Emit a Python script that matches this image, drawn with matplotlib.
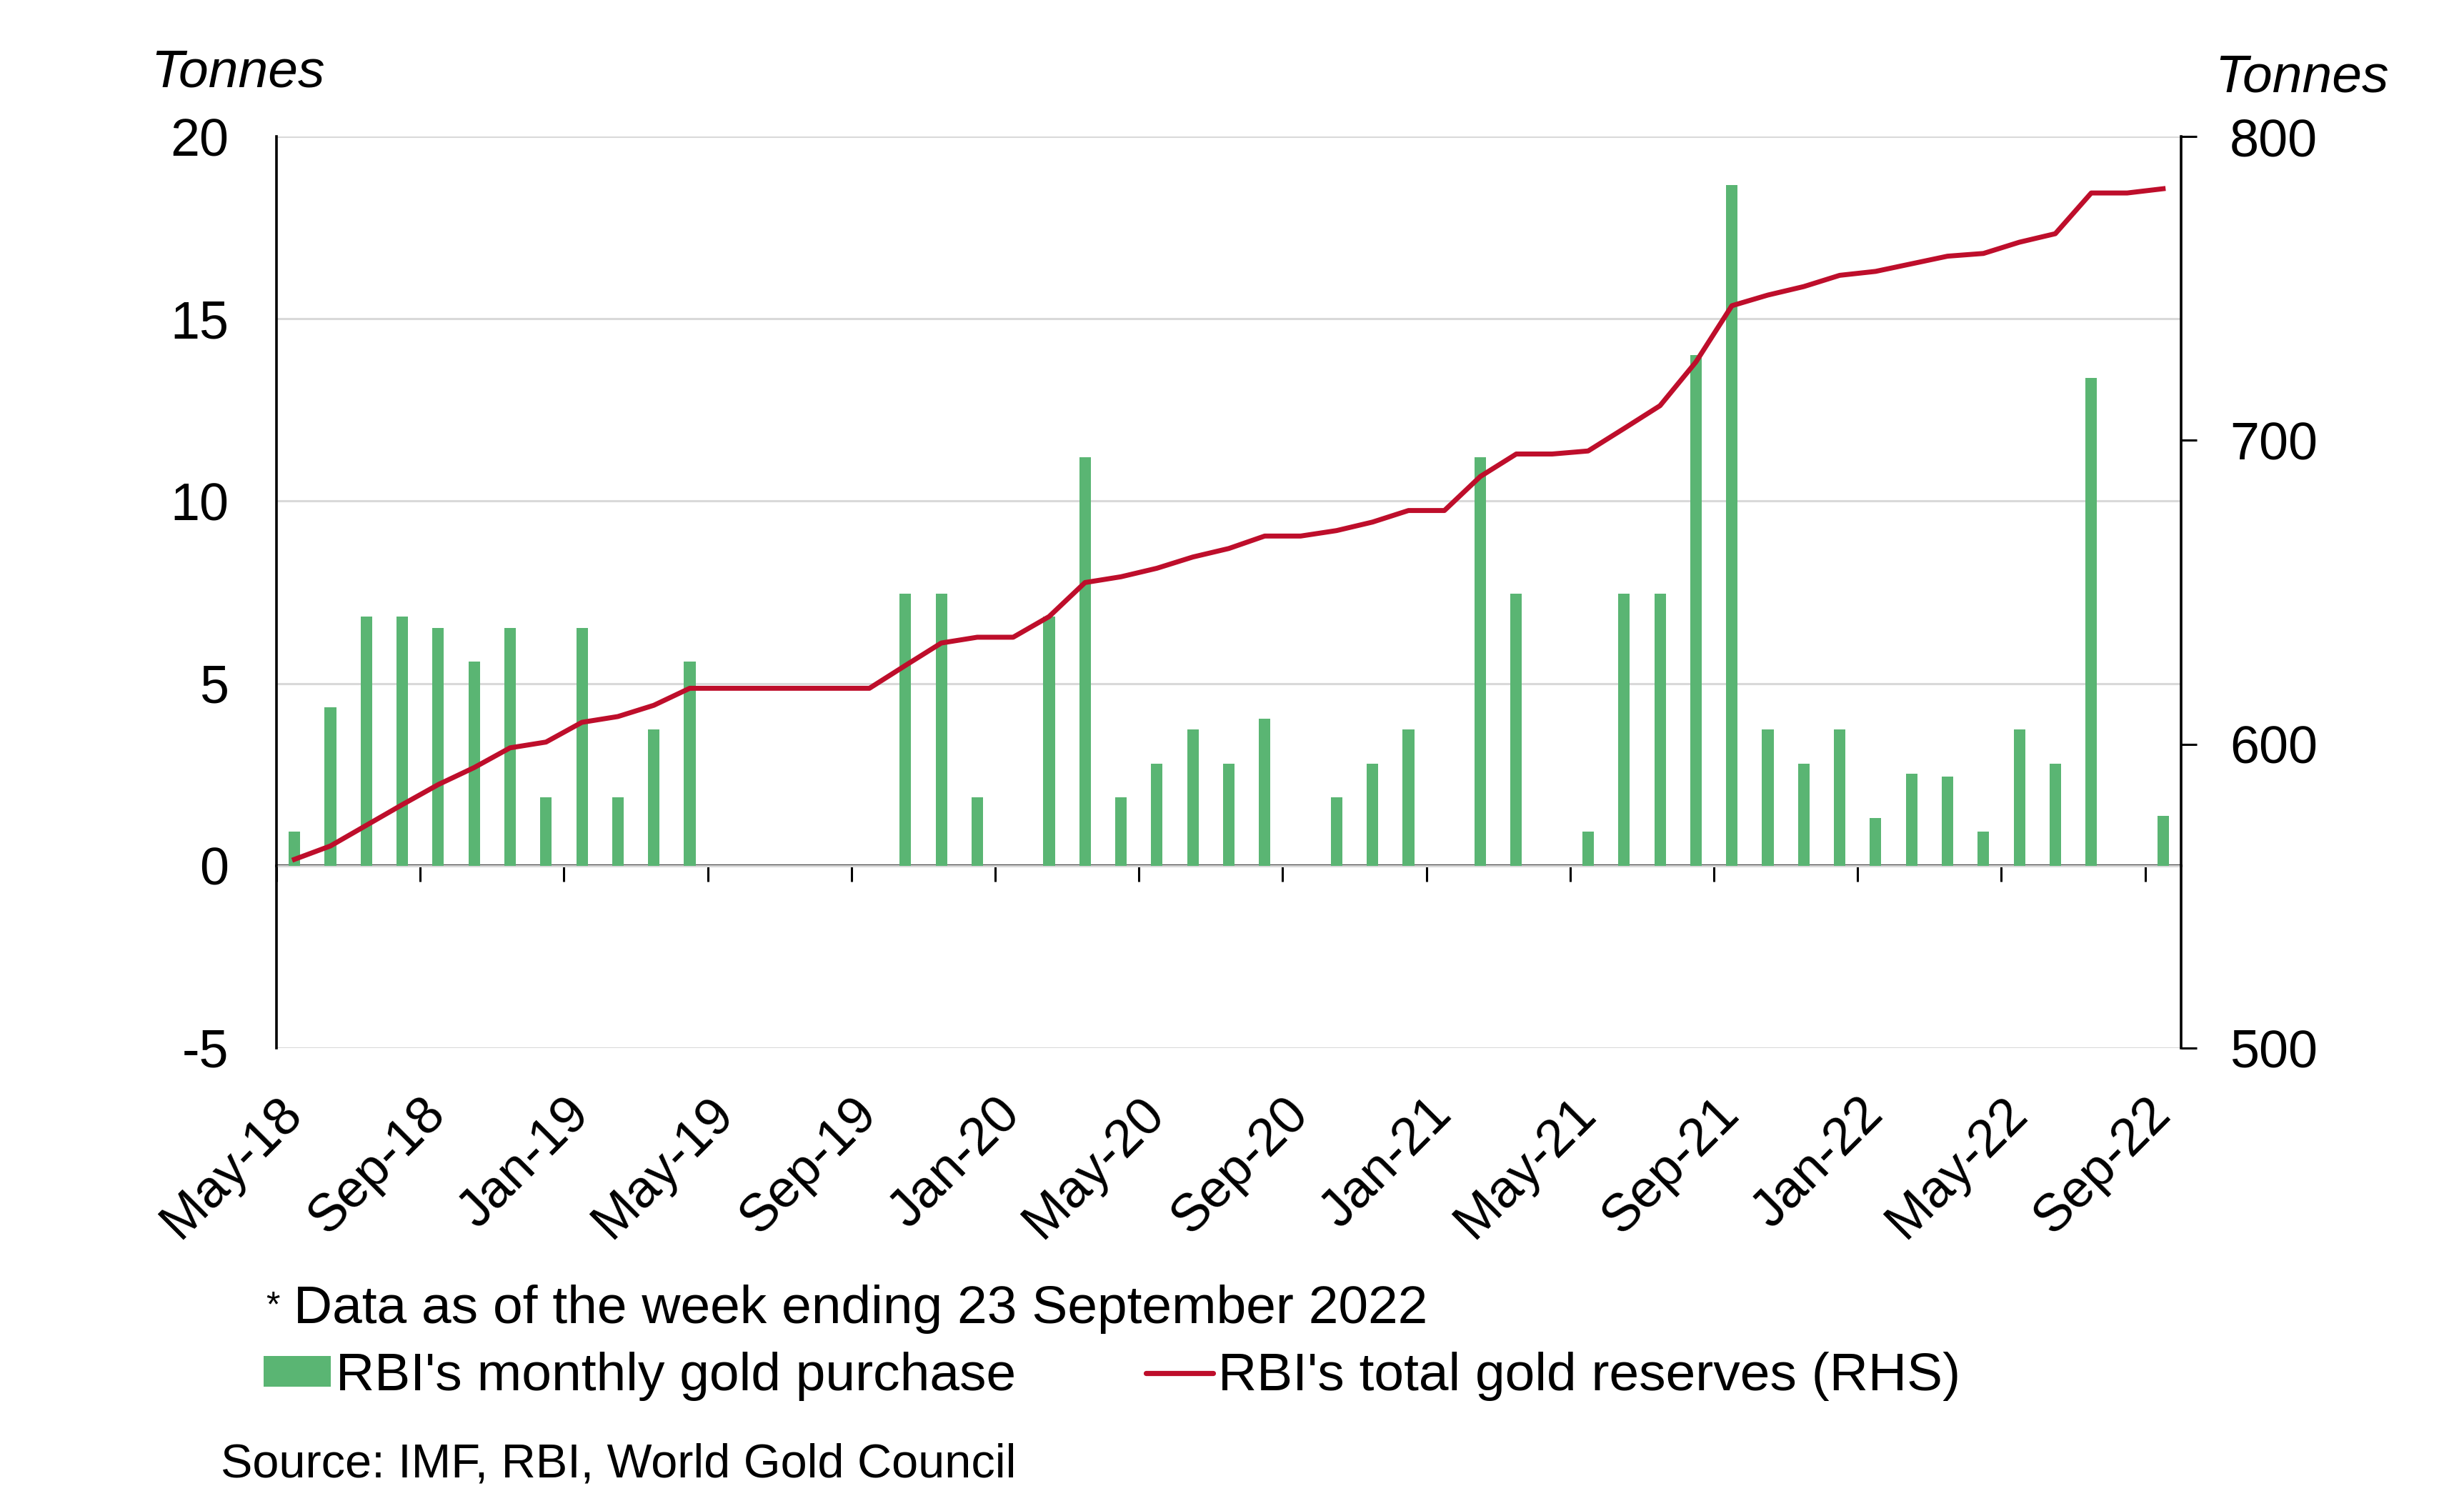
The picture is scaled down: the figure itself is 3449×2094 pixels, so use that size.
import matplotlib
matplotlib.use('Agg')
import matplotlib.pyplot as plt
import matplotlib.transforms as mtransforms
from matplotlib.patches import Patch
from matplotlib.lines import Line2D
import numpy as np

plt.rcParams['font.family'] = ['Liberation Sans', 'DejaVu Sans']
plt.rcParams['axes.unicode_minus'] = False

months = ['May-18', 'Jun-18', 'Jul-18', 'Aug-18', 'Sep-18', 'Oct-18', 'Nov-18', 'Dec-18',
          'Jan-19', 'Feb-19', 'Mar-19', 'Apr-19', 'May-19', 'Jun-19', 'Jul-19', 'Aug-19',
          'Sep-19', 'Oct-19', 'Nov-19', 'Dec-19',
          'Jan-20', 'Feb-20', 'Mar-20', 'Apr-20', 'May-20', 'Jun-20', 'Jul-20', 'Aug-20',
          'Sep-20', 'Oct-20', 'Nov-20', 'Dec-20',
          'Jan-21', 'Feb-21', 'Mar-21', 'Apr-21', 'May-21', 'Jun-21', 'Jul-21', 'Aug-21',
          'Sep-21', 'Oct-21', 'Nov-21', 'Dec-21',
          'Jan-22', 'Feb-22', 'Mar-22', 'Apr-22', 'May-22', 'Jun-22', 'Jul-22', 'Aug-22',
          'Sep-22']

# RBI's monthly gold purchase (tonnes, LHS)
purchase = [0.93, 4.35, 6.84, 6.84, 6.53, 5.60, 6.53, 1.87,
            6.53, 1.87, 3.73, 5.60, 0, 0, 0, 0,
            0, 7.46, 7.46, 1.87,
            0, 6.84, 11.20, 1.87, 2.80, 3.73, 2.80, 4.04,
            0, 1.87, 2.80, 3.73,
            0, 11.20, 7.46, 0, 0.93, 7.46, 7.46, 14.00,
            18.66, 3.73, 2.80, 3.73,
            1.31, 2.52, 2.45, 0.93, 3.73, 2.80, 13.37, 0,
            1.37]

# RBI's total gold reserves (tonnes, RHS)
reserves = [562.1, 566.5, 573.3, 580.1, 586.7, 592.3, 598.8, 600.7,
            607.2, 609.1, 612.8, 618.4, 618.4, 618.4, 618.4, 618.4,
            618.4, 625.9, 633.3, 635.2,
            635.2, 642.0, 653.2, 655.1, 657.9, 661.6, 664.4, 668.5,
            668.5, 670.3, 673.1, 676.9,
            676.9, 688.1, 695.5, 695.5, 696.5, 703.9, 711.4, 725.8,
            744.3, 747.8, 750.6, 754.3,
            755.6, 758.1, 760.6, 761.5, 765.2, 768.0, 781.4, 781.4,
            782.8]

left_ticks = [-5, 0, 5, 10, 15, 20]
right_ticks = [500, 600, 700, 800]

GREEN = '#5AB573'
RED = '#BE0E2B'
GRID = '#D9D9D9'

fig = plt.figure(figsize=(17.245, 10.47), dpi=200)
ax = fig.add_axes([0.11221, 0.29943, 0.77297, 0.60935])

x = np.arange(len(months))
ax.bar(x, purchase, width=0.32, color=GREEN, zorder=2)
ax.set_xlim(-0.5, len(months) - 0.5)
ax.set_ylim(left_ticks[0], left_ticks[-1])
ax.set_yticks(left_ticks)
ax.yaxis.grid(True, color=GRID, lw=1.1)
ax.set_axisbelow(True)
for s in ['top', 'bottom', 'right']:
    ax.spines[s].set_visible(False)
ax.spines['left'].set_linewidth(1.3)
ax.tick_params(axis='y', length=0, pad=24.0, labelsize=26.5)

ax.set_xticks(x[::4])
ax.set_xticklabels(months[::4])
ax.tick_params(axis='x', length=0, pad=34, labelsize=26.5)
offset = mtransforms.ScaledTranslation(13 / 200, 0, fig.dpi_scale_trans)
for lab in ax.get_xticklabels():
    lab.set_rotation(45)
    lab.set_ha('right')
    lab.set_va('baseline')
    lab.set_rotation_mode('anchor')
    lab.set_transform(lab.get_transform() + offset)

# zero line with category-boundary tick marks
zx = ax.secondary_xaxis(0.2)
zx.set_xticks(np.arange(-0.5, len(months), 4))
zx.tick_params(axis='x', length=8.0, width=1.1, direction='out',
               labelbottom=False, color='black')
for s in zx.spines.values():
    s.set_linewidth(1.3)
    s.set_color('black')

ax2 = ax.twinx()
ax2.plot(x, reserves, color=RED, lw=2.5, zorder=3)
ax2.set_ylim(right_ticks[0], right_ticks[-1])
ax2.set_yticks(right_ticks)
ax2.tick_params(axis='y', length=7.9, width=1.1, pad=16.5, labelsize=26.5, direction='out')
for s in ['top', 'bottom', 'left']:
    ax2.spines[s].set_visible(False)
ax2.spines['right'].set_linewidth(1.3)

fig.text(0.0612, 0.94174, 'Tonnes', fontsize=27, style='italic', ha='left', va='baseline')
fig.text(0.8990, 0.93887, 'Tonnes', fontsize=27, style='italic', ha='left', va='baseline')

fig.text(0.1080, 0.1265, '*', fontsize=18, ha='left', va='center')
fig.text(0.11917, 0.11557, 'Data as of the week ending 23 September 2022',
         fontsize=27, ha='left', va='baseline')

handles = [Patch(facecolor=GREEN, label="RBI's monthly gold purchase"),
           Line2D([], [], color=RED, lw=2.6, solid_capstyle='round',
                  label="RBI's total gold reserves (RHS)")]
fig.legend(handles=handles, loc='center left', bbox_to_anchor=(369 / 3449, 0.0800),
           ncol=2, frameon=False, fontsize=27, handlelength=1.25, handleheight=0.52,
           handletextpad=0.1, columnspacing=2.42, borderpad=0, borderaxespad=0)

fig.text(0.0896, 0.01289, 'Source: IMF, RBI, World Gold Council',
         fontsize=24, ha='left', va='baseline')

fig.savefig('out.png', dpi=200)
